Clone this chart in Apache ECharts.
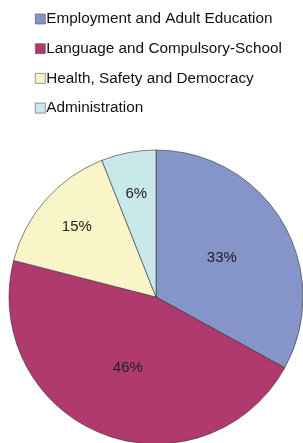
<!DOCTYPE html>
<html>
<head>
<meta charset="utf-8">
<script src="https://cdn.jsdelivr.net/npm/echarts@6/dist/echarts.min.js"></script>
<style>
  html, body { margin: 0; padding: 0; background: #fff; }
  #pieChart { width: 303px; height: 443px; }
</style>
</head>
<body>
<div id="pieChart"></div>
<script>
var categories = ['Employment and Adult Education', 'Language and Compulsory-School', 'Health, Safety and Democracy', 'Administration']
var shares = [33, 46, 15, 6]
var colors = ['#8594c9', '#b03a6e', '#faf5c8', '#c9e8ea']
// small slices get their label further out, like the original
var outerLabel = [false, false, true, true]

var font = 'Liberation Sans, Arial, sans-serif'
var dom = document.getElementById('pieChart')
var myChart = echarts.init(dom)
var option = {
    animation: false,
    legend: {
        orient: 'vertical',
        left: 30,
        top: 5,
        itemWidth: 10,
        itemHeight: 10,
        itemGap: 11.7,
        icon: 'rect',
        data: categories,
        itemStyle: { borderColor: '#555', borderWidth: 0.6 },
        textStyle: {
            fontFamily: font,
            fontSize: 15.3,
            lineHeight: 18,
            color: '#111',
            padding: [0, 0, 0, -4]
        }
    },
    series: [{
        type: 'pie',
        center: [156, 297],
        radius: 147,
        startAngle: 90,
        clockwise: true,
        silent: true,
        label: {
            position: 'inside',
            formatter: '{c}%',
            fontFamily: font,
            fontSize: 15,
            color: '#222'
        },
        labelLine: { show: false },
        itemStyle: { borderColor: '#333', borderWidth: 0.6 },
        data: categories.map(function (c, i) {
            return { name: c, value: shares[i], itemStyle: { color: colors[i] }, label: { show: !outerLabel[i] } }
        })
    }, {
        type: 'pie',
        center: [156, 297],
        radius: [58, 147],
        startAngle: 90,
        clockwise: true,
        silent: true,
        z: 3,
        label: {
            position: 'inside',
            formatter: '{c}%',
            fontFamily: font,
            fontSize: 15,
            color: '#222'
        },
        labelLine: { show: false },
        itemStyle: { color: 'rgba(0,0,0,0)', borderWidth: 0 },
        data: categories.map(function (c, i) {
            return { name: c, value: shares[i], label: { show: outerLabel[i] } }
        })
    }]
}
myChart.setOption(option, true)
</script>
</body>
</html>
